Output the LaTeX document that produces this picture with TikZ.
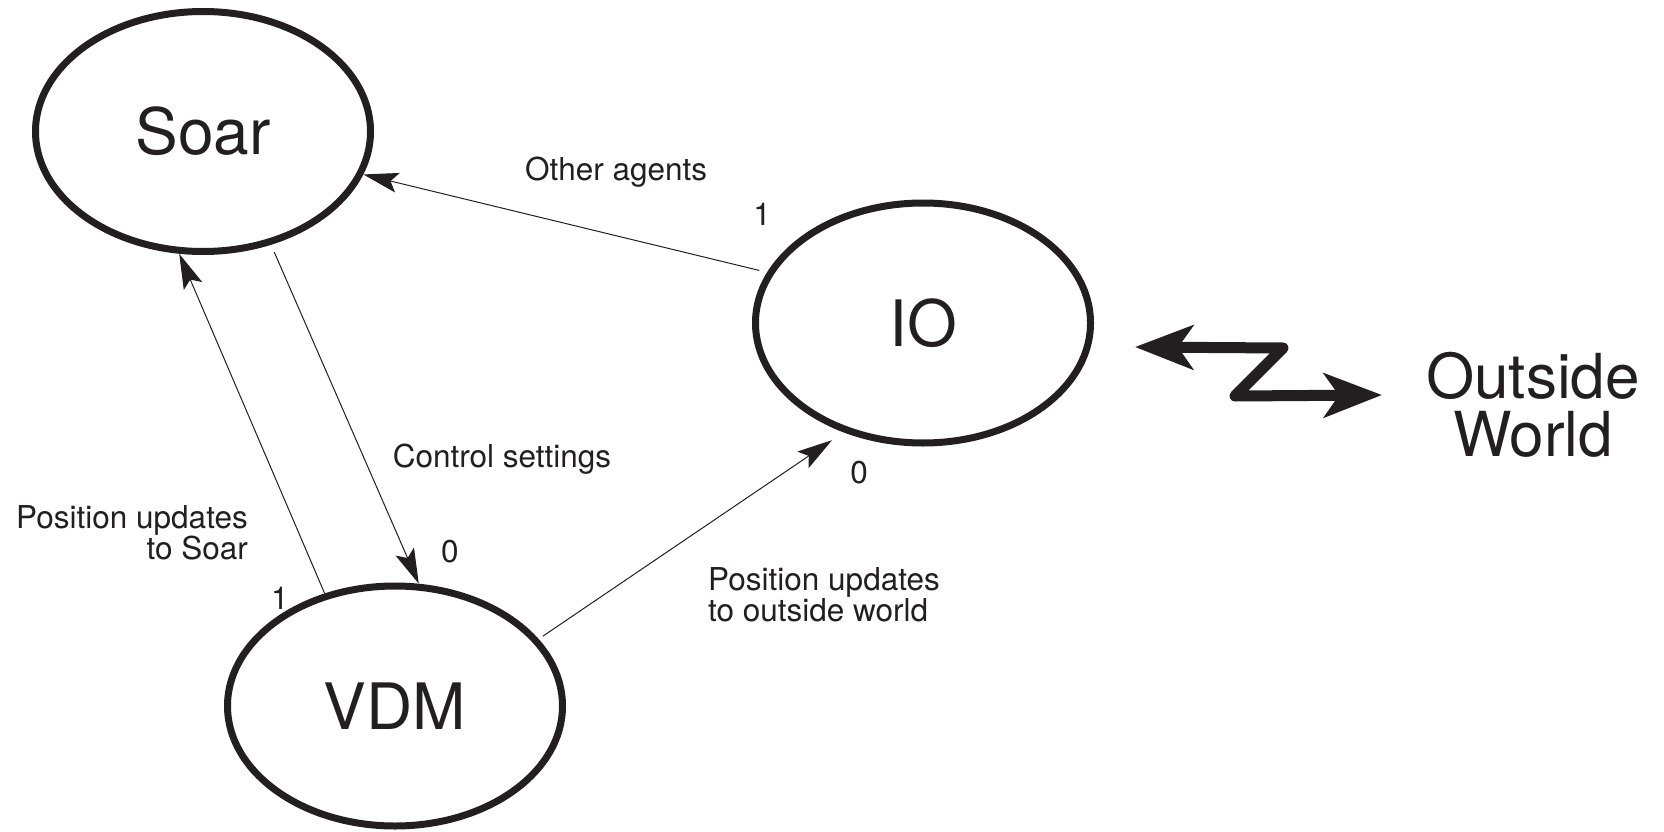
\documentclass[tikz,border=0pt]{standalone}
\usepackage{fontspec}
\setmainfont{TeX Gyre Heros}
\usetikzlibrary{shapes.geometric,arrows.meta}
\definecolor{ink}{HTML}{231F20}

\begin{document}
\begin{tikzpicture}[x=1pt,y=1pt,
  every path/.style={color=ink},
  state/.style={ellipse, draw=ink, text=ink, line width=7pt,
    minimum width=335pt, minimum height=240pt, inner sep=0pt,
    font=\fontsize{64}{58}\selectfont},
  lbl/.style={inner sep=0pt, text=ink, font=\fontsize{31.5}{31}\selectfont},
  big/.style={inner sep=0pt, text=ink, font=\fontsize{62}{58}\selectfont},
  flow/.style={draw=ink, line width=1pt,
    -{Stealth[length=35pt,width=20pt,inset=7pt]}},
  link/.style={draw=ink, line width=11pt, line join=round, line cap=round,
    arrows={Stealth[length=58pt,width=44pt,inset=15pt]-Stealth[length=58pt,width=44pt,inset=15pt]}}
]
% canvas
\fill[white] (0,0) rectangle (1664,-832);
\useasboundingbox (0,0) rectangle (1664,-832);

% processes
\node[state] (soar) at (203,-131.5) {Soar};
\node[state] (io)   at (923,-323)   {IO};
\node[state] (vdm)  at (395,-706)   {VDM};

% data flows between the processes
\draw[flow, shorten <=8pt] (io.162) -- (soar.-15);
\draw[flow] (vdm.122) -- (soar.259);
\draw[flow, shorten <=8pt] (soar.-59) -- (vdm.79);
\draw[flow, shorten <=5pt, shorten >=14pt] (vdm.25) -- (io.234);

% flow labels
\node[lbl, anchor=base west] (lagents) at (525,-180) {Other agents};
\node[lbl, anchor=base] (lcontrol) at (502,-467) {Control settings};
\node[lbl, anchor=north east, align=right] (lsoar) at (248,-505) {Position updates\\to Soar};
\node[lbl, anchor=north west, align=left] (lworld) at (708,-567) {Position updates\\to outside world};

% port numbers
\node[lbl, anchor=base] (pio1)  at (762,-225) {1};
\node[lbl, anchor=base] (pvdm1) at (280,-609) {1};
\node[lbl, anchor=base] (pvdm0) at (450,-562) {0};
\node[lbl, anchor=base] (pio0)  at (859,-483) {0};

% link to the outside world
\node[big, anchor=north, align=center] (world) at (1533,-352) {Outside\\World};
\coordinate (zl) at (1135,-347);
\coordinate (zt) at (1283,-348);
\coordinate (zb) at (1235,-396);
\coordinate (zr) at (1382,-395);
\draw[link] (zl) -- (zt) -- (zb) -- (zr);
\end{tikzpicture}
\end{document}
